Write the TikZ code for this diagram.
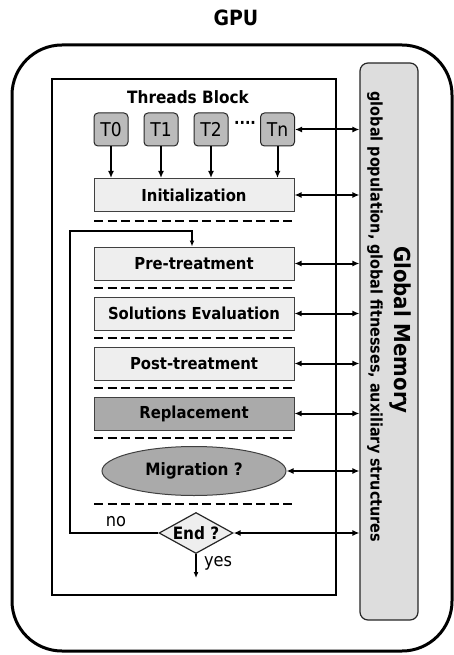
\documentclass[tikz,border=0pt]{standalone}
\usepackage{fontspec}
\setmainfont{DejaVu Sans Condensed}
\usetikzlibrary{arrows.meta,shapes.geometric}
\definecolor{StepGray}{HTML}{EEEEEE}
\definecolor{DarkStep}{HTML}{AAAAAA}
\definecolor{MemGray}{HTML}{DDDDDD}
\definecolor{ThreadGray}{HTML}{BBBBBB}
\begin{document}
\begin{tikzpicture}[x=1pt,y=-1pt,
    stepbox/.style={draw=black!75,line width=1pt,fill=StepGray,minimum width=200pt,
      minimum height=33pt,inner sep=0pt,font=\fontsize{16.5}{18}\selectfont\bfseries},
    thread/.style={draw=black!85,line width=1pt,fill=ThreadGray,rounded corners=4pt,
      minimum width=34pt,minimum height=33pt,inner sep=0pt,font=\fontsize{19}{20}\selectfont},
    barrier/.style={line width=2pt,dash pattern=on 9pt off 4.5pt},
    memlink/.style={{Latex[length=7pt,width=6pt]}-{Latex[length=7pt,width=6pt]},line width=2pt},
    down/.style={-{Latex[length=7pt,width=6pt]},line width=2pt}]
  \useasboundingbox (0,0) rectangle (454,655);
  % GPU and threads block
  \node[font=\fontsize{21}{24}\selectfont\bfseries] (gpu) at (236,18) {GPU};
  \draw[line width=3pt,rounded corners=50pt] (12,45) rectangle (452,651);
  \draw[line width=2pt] (52,79) rectangle (336,595);
  \node[font=\fontsize{17}{20}\selectfont\bfseries] (tb) at (188,97) {Threads Block};
  % global memory
  \node[draw=black!85,line width=1.2pt,fill=MemGray,rounded corners=8pt,
        minimum width=58pt,minimum height=557pt] (mem) at (389,341.5) {};
  \node[rotate=-90,font=\fontsize{22}{24}\selectfont\bfseries] (memtitle) at (400,330) {Global Memory};
  \node[rotate=-90,font=\fontsize{16}{18}\selectfont\bfseries] (memtxt) at (375,317)
    {global population, global fitnesses, auxiliary structures};
  % threads
  \node[thread] (t0) at (111,129.5) {T0};
  \node[thread] (t1) at (161,129.5) {T1};
  \node[thread] (t2) at (211,129.5) {T2};
  \node[thread] (tn) at (277.5,129.5) {Tn};
  \node[font=\fontsize{16}{18}\selectfont\bfseries] (dots) at (245,125) {····};
  % steps
  \node[stepbox] (init) at (194,195) {Initialization};
  \node[stepbox] (pre) at (194,263.5) {Pre-treatment};
  \node[stepbox] (eval) at (194,313.5) {Solutions Evaluation};
  \node[stepbox] (post) at (194,363.5) {Post-treatment};
  \node[stepbox,fill=DarkStep] (repl) at (194,413.5) {Replacement};
  \node[ellipse,draw=black!75,line width=1pt,fill=DarkStep,minimum width=184pt,minimum height=49pt,
        inner sep=0pt,font=\fontsize{17}{19}\selectfont\bfseries] (mig) at (194,471) {Migration ?};
  \node[diamond,draw=black!85,line width=1.2pt,fill=StepGray,aspect=1.8,inner sep=0pt,
        minimum width=74pt,minimum height=41pt,font=\fontsize{17}{19}\selectfont\bfseries] (end) at (196,533) {End ?};
  % barriers
  \foreach \y in {221,288,338,388,438,504}
    \draw[barrier] (94,\y) -- (294,\y);
  % thread arrows
  \foreach \t in {t0,t1,t2,tn}
    \draw[down] (\t.south) -- (\t.south |- init.north);
  % links to global memory
  \foreach \n in {tn,init,pre,eval,post,repl,mig,end}
    \draw[memlink] (\n.east) -- (\n.east -| mem.west);
  % loop and exit
  \coordinate (loop) at (70,231);
  \draw[-{Latex[length=6pt,width=5pt]},line width=1.5pt] (end.west) -| (loop) -| ([xshift=-2pt]pre.north);
  \node[font=\fontsize{18}{20}\selectfont] (no) at (116,522) {no};
  \coordinate (exit) at (196,578);
  \draw[-{Latex[length=6pt,width=5pt]},line width=1.5pt] (end.south) -- (exit);
  \node[font=\fontsize{18}{20}\selectfont] (yes) at (218,563) {yes};
\end{tikzpicture}
\end{document}
